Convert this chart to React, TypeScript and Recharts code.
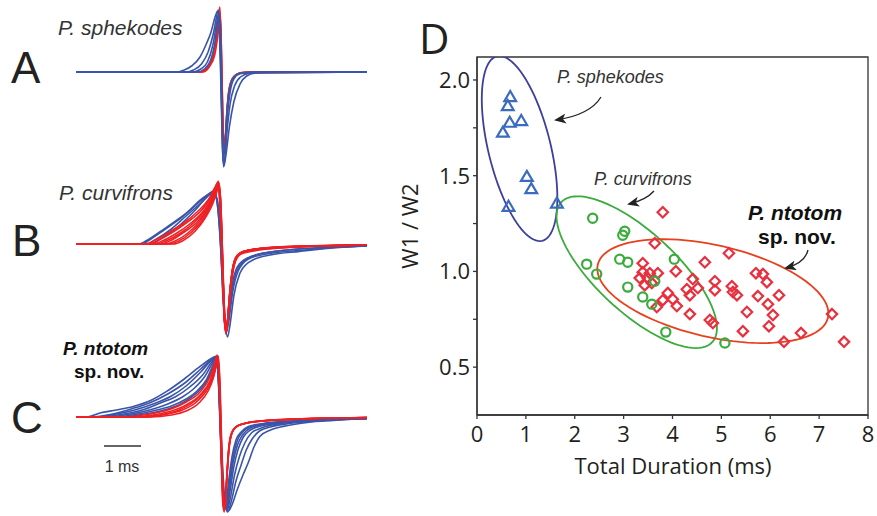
import React from 'react';
import { LineChart, Line, XAxis, YAxis, ScatterChart, Scatter, ReferenceArea } from 'recharts';

type P = [number, number];

// ---------------- Panel A (P. sphekodes) waveforms: [time ms, amplitude] ----------------
const A_RED: P[][] = [
  [[0,0],[3.35,0],[3.55,3],[3.7,12],[3.8,28],[3.87,50],[3.92,65],[3.96,25],[4.0,-45],[4.04,-80],[4.08,-62],[4.15,-26],[4.25,-8],[4.4,-2],[4.7,0],[7.93,0]],
  [[0,0],[3.4,0],[3.6,5],[3.75,18],[3.85,40],[3.91,62],[3.95,35],[3.99,-35],[4.04,-76],[4.09,-52],[4.17,-18],[4.3,-5],[4.5,-1],[7.93,0]],
  [[0,0],[3.45,0],[3.63,5],[3.78,17],[3.87,38],[3.93,58],[3.97,12],[4.02,-68],[4.06,-70],[4.12,-34],[4.2,-12],[4.35,-3],[4.6,0],[7.93,0]],
];
const A_BLUE: P[][] = [
  [[0,0],[2.75,0],[2.95,2],[3.15,6],[3.38,15],[3.55,28],[3.68,40],[3.79,55],[3.86,61],[3.91,38],[3.95,-15],[3.99,-75],[4.03,-94],[4.09,-82],[4.18,-55],[4.3,-30],[4.47,-12],[4.65,-4],[4.9,-1],[5.3,0],[7.93,0]],
  [[0,0],[3.0,0],[3.2,2],[3.42,8],[3.6,20],[3.74,38],[3.83,55],[3.88,62],[3.93,28],[3.97,-35],[4.01,-88],[4.05,-90],[4.11,-62],[4.2,-32],[4.32,-14],[4.48,-5],[4.75,-1],[5.1,0],[7.93,0]],
  [[0,0],[3.2,0],[3.4,3],[3.58,10],[3.73,27],[3.84,50],[3.9,58],[3.94,20],[3.98,-50],[4.02,-95],[4.06,-84],[4.12,-46],[4.2,-20],[4.3,-7],[4.45,-2],[4.8,0],[7.93,0]],
  [[0,0],[3.3,0],[3.5,3],[3.67,12],[3.8,33],[3.88,57],[3.93,48],[3.97,-20],[4.01,-84],[4.05,-80],[4.11,-42],[4.19,-16],[4.3,-5],[4.5,-1],[7.93,0]],
];

// ---------------- Panel B (P. curvifrons) ----------------
const B_BLUE: P[][] = [
  [[0,0],[1.72,0],[1.9,3],[2.3,12.6],[2.83,26],[3.1,34],[3.38,44],[3.58,49],[3.72,52],[3.83,46],[3.92,20],[4.0,-30],[4.07,-80],[4.13,-93],[4.2,-80],[4.3,-52],[4.47,-29],[4.65,-20],[4.82,-16],[5.3,-11],[6.1,-7.4],[7.0,-4],[7.93,-2]],
  [[0,0],[1.8,0],[2.0,4],[2.4,14],[2.9,27],[3.3,40],[3.58,49],[3.75,53],[3.85,40],[3.94,0],[4.02,-58],[4.09,-89],[4.16,-78],[4.27,-48],[4.42,-27],[4.7,-15],[5.2,-10],[6.1,-6.5],[7.0,-3.5],[7.93,-2]],
  [[0,0],[1.95,0],[2.15,4],[2.6,15],[3.0,28],[3.4,41],[3.65,50],[3.78,51],[3.88,30],[3.97,-22],[4.05,-75],[4.1,-86],[4.18,-64],[4.32,-34],[4.52,-19],[4.9,-11],[5.5,-7],[6.5,-4],[7.93,-2]],
  [[0,0],[2.05,0],[2.3,5],[2.8,18],[3.2,32],[3.55,46],[3.75,52],[3.85,44],[3.93,10],[4.0,-50],[4.08,-88],[4.15,-72],[4.28,-36],[4.45,-20],[4.8,-12],[5.5,-7],[6.5,-4],[7.93,-2]],
];
const B_RED: P[][] = [
  [[0,0],[1.9,0],[2.1,3],[2.5,11],[2.9,20],[3.3,32],[3.6,44],[3.78,56],[3.86,61],[3.92,40],[3.98,-10],[4.04,-70],[4.09,-89],[4.15,-70],[4.25,-35],[4.35,-17],[4.5,-10],[5.0,-6],[6.0,-3],[7.93,-1]],
  [[0,0],[2.0,0],[2.2,3],[2.6,11],[3.0,21],[3.4,33],[3.65,45],[3.8,57],[3.87,62],[3.93,35],[3.99,-20],[4.05,-78],[4.1,-88],[4.17,-62],[4.26,-30],[4.37,-14],[4.55,-8],[5.1,-5],[6.2,-2.5],[7.93,-1]],
  [[0,0],[2.1,0],[2.35,3],[2.75,11],[3.1,20],[3.45,32],[3.7,46],[3.83,58],[3.88,63],[3.94,30],[4.0,-30],[4.05,-80],[4.1,-86],[4.17,-58],[4.26,-26],[4.38,-12],[4.6,-7],[5.2,-4.5],[6.3,-2.5],[7.93,-1]],
  [[0,0],[2.2,0],[2.45,3],[2.85,11],[3.2,21],[3.5,33],[3.72,46],[3.84,58],[3.89,62],[3.95,25],[4.01,-40],[4.06,-84],[4.11,-84],[4.18,-52],[4.27,-24],[4.4,-11],[4.6,-7],[5.2,-4],[7.93,-1]],
  [[0,0],[2.3,0],[2.55,3],[2.95,12],[3.3,22],[3.58,35],[3.76,48],[3.85,58],[3.9,61],[3.96,20],[4.02,-50],[4.07,-88],[4.12,-80],[4.2,-45],[4.3,-20],[4.45,-10],[4.7,-6],[5.5,-3.5],[7.93,-1]],
  [[0,0],[2.45,0],[2.7,3],[3.05,11],[3.4,24],[3.63,37],[3.78,50],[3.87,60],[3.91,58],[3.97,15],[4.03,-60],[4.08,-90],[4.13,-78],[4.21,-42],[4.32,-18],[4.48,-9],[4.8,-5.5],[5.6,-3],[7.93,-1]],
  [[0,0],[2.55,0],[2.8,3],[3.15,12],[3.45,24],[3.67,38],[3.8,50],[3.88,58],[3.93,50],[3.98,5],[4.04,-65],[4.09,-87],[4.14,-72],[4.22,-38],[4.33,-16],[4.5,-8.5],[4.9,-5],[5.8,-2.5],[7.93,-1]],
  [[0,0],[2.65,0],[2.9,3],[3.25,13],[3.52,26],[3.7,38],[3.82,50],[3.89,57],[3.94,45],[3.99,-5],[4.05,-70],[4.1,-85],[4.16,-66],[4.24,-34],[4.36,-15],[4.55,-8],[5.0,-4.5],[6.0,-2],[7.93,-1]],
];

// ---------------- Panel C (P. ntotom sp. nov.) ----------------
const C_BLUE: P[][] = [
  [[0,0],[0.3,0],[0.65,4],[1.1,7],[1.56,10.6],[2.0,16],[2.47,25.6],[2.95,38],[3.38,50.6],[3.62,57],[3.76,60],[3.84,61],[3.9,30],[3.97,-30],[4.05,-80],[4.15,-94],[4.25,-88],[4.4,-72],[4.55,-58],[4.69,-46],[4.85,-30],[5.01,-19.4],[5.3,-13],[5.65,-9.4],[6.3,-5.5],[7.01,-3.4],[7.93,-1.5]],
  [[0,0],[0.4,0],[1.0,3],[1.5,8],[2.0,14],[2.5,23],[3.0,35],[3.4,48],[3.68,57],[3.82,60],[3.89,32],[3.96,-32],[4.04,-82],[4.13,-95],[4.22,-86],[4.36,-64],[4.5,-48],[4.64,-33],[4.8,-22],[5.0,-14],[5.3,-10],[5.8,-6.5],[6.6,-4],[7.93,-1.5]],
  [[0,0],[0.5,0],[1.1,3],[1.6,7],[2.1,13],[2.6,21],[3.0,31],[3.4,45],[3.7,57],[3.82,60],[3.89,30],[3.96,-36],[4.03,-84],[4.12,-93],[4.2,-82],[4.32,-58],[4.45,-40],[4.6,-26],[4.78,-16],[5.05,-11],[5.5,-7],[6.4,-4],[7.93,-1.5]],
  [[0,0],[0.6,0],[1.3,3],[1.8,7],[2.3,14],[2.7,20],[3.1,30],[3.45,42],[3.72,56],[3.83,60],[3.89,28],[3.96,-40],[4.03,-86],[4.11,-92],[4.19,-76],[4.3,-50],[4.42,-32],[4.56,-20],[4.75,-13],[5.1,-8.5],[5.7,-5.5],[7.93,-1.5]],
  [[0,0],[0.8,0],[1.5,3],[2.0,7],[2.5,13],[2.9,20],[3.2,28],[3.5,40],[3.74,55],[3.84,60],[3.9,26],[3.96,-42],[4.02,-86],[4.1,-90],[4.18,-72],[4.28,-46],[4.4,-28],[4.54,-18],[4.75,-11],[5.1,-7.5],[5.8,-4.5],[7.93,-1.5]],
  [[0,0],[1.0,0],[1.7,3],[2.2,7],[2.6,11],[3.0,18],[3.3,26],[3.55,37],[3.76,54],[3.85,60],[3.91,24],[3.97,-44],[4.03,-86],[4.1,-88],[4.17,-68],[4.27,-42],[4.38,-25],[4.52,-16],[4.72,-10],[5.1,-7],[5.8,-4.5],[7.93,-1.5]],
  [[0,0],[1.2,0],[1.9,3],[2.4,7],[2.8,12],[3.15,20],[3.4,28],[3.6,38],[3.77,53],[3.85,60],[3.91,22],[3.97,-45],[4.03,-85],[4.09,-86],[4.16,-64],[4.25,-40],[4.36,-23],[4.5,-15],[4.7,-9.5],[5.1,-6.5],[5.9,-4],[7.93,-1.5]],
];
const C_RED: P[][] = [
  [[0,0],[1.3,0],[2.0,3],[2.5,7],[3.0,15],[3.38,25],[3.65,40],[3.78,54],[3.85,62],[3.9,35],[3.95,-30],[4.0,-86],[4.04,-95],[4.09,-70],[4.15,-36],[4.22,-18],[4.35,-10],[4.5,-7.5],[4.9,-4.5],[5.5,-3],[6.5,-1.5],[7.93,-0.5]],
  [[0,0],[1.5,0],[2.1,2],[2.6,6],[3.0,12],[3.38,22],[3.66,37],[3.79,52],[3.86,61],[3.91,32],[3.96,-35],[4.01,-88],[4.05,-93],[4.1,-66],[4.16,-33],[4.24,-16],[4.37,-9.5],[4.55,-7],[5.0,-4.2],[5.6,-2.8],[6.6,-1.4],[7.93,-0.5]],
  [[0,0],[1.7,0],[2.3,2],[2.8,7],[3.2,15],[3.5,26],[3.7,38],[3.8,50],[3.86,60],[3.92,28],[3.97,-40],[4.02,-90],[4.06,-90],[4.11,-60],[4.17,-30],[4.26,-15],[4.4,-9],[4.6,-6.5],[5.1,-4],[5.8,-2.5],[7.93,-0.5]],
  [[0,0],[1.9,0],[2.5,3],[2.9,7],[3.25,14],[3.55,26],[3.72,38],[3.82,52],[3.87,60],[3.92,30],[3.97,-38],[4.02,-88],[4.06,-92],[4.11,-62],[4.18,-28],[4.27,-14],[4.42,-8.5],[4.65,-6],[5.2,-3.6],[6.0,-2],[7.93,-0.5]],
  [[0,0],[2.0,0],[2.6,2],[3.0,6],[3.35,14],[3.6,26],[3.75,40],[3.84,54],[3.88,61],[3.93,28],[3.98,-42],[4.03,-90],[4.07,-88],[4.12,-56],[4.19,-26],[4.29,-13],[4.45,-8],[4.7,-5.5],[5.2,-3.4],[6.2,-1.8],[7.93,-0.5]],
];

// ---------------- Panel D scatter: [Total Duration (ms), W1/W2] ----------------
const SPHEKODES: P[] = [
  [0.68,1.913],[0.63,1.866],[0.905,1.788],[0.67,1.779],[0.53,1.727],
  [1.02,1.496],[1.11,1.432],[0.645,1.34],[1.635,1.357],
];
const CURVIFRONS: P[] = [
  [2.367,1.278],[3.023,1.21],[2.982,1.189],[2.244,1.038],[2.449,0.986],[2.92,1.064],[3.084,1.048],
  [4.037,1.064],[3.084,0.918],[3.637,0.949],[3.391,0.866],[3.576,0.829],[3.863,0.683],[5.072,0.626],
];
const NTOTOM: P[] = [
  [3.801,1.309],[3.637,1.147],[5.154,1.095],[4.662,1.048],[3.391,1.043],[4.068,1.001],[3.391,0.996],
  [3.535,0.991],[3.699,0.991],[3.33,0.965],[3.494,0.965],[3.432,0.928],[3.576,0.939],[4.416,0.96],
  [4.867,0.949],[5.215,0.923],[5.707,0.991],[5.85,0.986],[5.932,0.944],[4.293,0.907],[4.518,0.913],
  [4.867,0.902],[5.236,0.892],[5.318,0.876],[5.748,0.871],[6.178,0.876],[3.904,0.887],[4.355,0.876],
  [3.801,0.85],[4.006,0.855],[4.088,0.819],[4.355,0.777],[3.678,0.814],[5.523,0.788],[5.953,0.829],
  [6.055,0.772],[4.764,0.746],[4.826,0.73],[5.441,0.688],[5.973,0.714],[7.264,0.777],[6.281,0.632],
  [6.629,0.678],[7.51,0.632],
];

// ellipses: centre + two conjugate semi-axis vectors (data units)
const ELLIPSE_SPHEKODES = { cx: 0.871, cy: 1.642, ax: 0.463, ay: -0.482, bx: 0.619, by: 0.0385 };
const ELLIPSE_CURVIFRONS = { cx: 3.268, cy: 0.996, ax: 1.543, ay: -0.366, bx: 0.56, by: 0.152 };
const ELLIPSE_NTOTOM = { cx: 4.826, cy: 0.897, ax: 2.355, ay: -0.1383, bx: -0.212, by: -0.2334 };
const ELLIPSE_STEPS = 96;

const X_TICKS = [0, 1, 2, 3, 4, 5, 6, 7, 8];
const Y_TICKS = [0.5, 0.75, 1.0, 1.25, 1.5, 1.75, 2.0];
const Y_LABELED = [0.5, 1.0, 1.5, 2.0];

const RED = '#ee2024';
const BLUE = '#3a55a8';
const AXIS_FONT = '"Open Sans", "Noto Sans", sans-serif';
const LABEL_FONT = '"Liberation Sans", Arial, sans-serif';

const toObj = (tr: P[]) => tr.map(([t, v]) => ({ t, v }));
const toXY = (pts: P[]) => pts.map(([x, y]) => ({ x, y }));
const ellipsePts = (e: { cx: number; cy: number; ax: number; ay: number; bx: number; by: number }) => {
  const out: { x: number; y: number }[] = [];
  for (let i = 0; i <= ELLIPSE_STEPS; i++) {
    const th = (i / ELLIPSE_STEPS) * Math.PI * 2;
    out.push({ x: e.cx + e.ax * Math.cos(th) + e.bx * Math.sin(th), y: e.cy + e.ay * Math.cos(th) + e.by * Math.sin(th) });
  }
  return out;
};

function TracePanel({ top, first, second }: { top: number; first: { color: string; traces: P[][] }; second: { color: string; traces: P[][] } }) {
  const all: { color: string; tr: P[] }[] = [
    ...first.traces.map((tr) => ({ color: first.color, tr })),
    ...second.traces.map((tr) => ({ color: second.color, tr })),
  ];
  return (
    <div style={{ position: 'absolute', left: 76, top, width: 291, height: 172 }}>
      <LineChart width={291} height={172} margin={{ top: 0, right: 0, bottom: 0, left: 0 }}>
        <XAxis type="number" dataKey="t" domain={[0, 7.93]} hide allowDataOverflow />
        <YAxis type="number" domain={[-100, 72]} hide allowDataOverflow />
        {all.map((l, i) => (
          <Line
            key={i}
            data={toObj(l.tr)}
            dataKey="v"
            type="monotone"
            stroke={l.color}
            strokeWidth={1.6}
            dot={false}
            activeDot={false}
            isAnimationActive={false}
          />
        ))}
      </LineChart>
    </div>
  );
}

const Empty = () => <g />;
const Triangle = (p: any) => {
  const { cx, cy } = p;
  const s = 5.6;
  return <polygon points={`${cx},${cy - s} ${cx + s * 1.05},${cy + s * 0.8} ${cx - s * 1.05},${cy + s * 0.8}`} fill="none" stroke="#3a6bbf" strokeWidth={2.2} />;
};
const Circ = (p: any) => <circle cx={p.cx} cy={p.cy} r={4.6} fill="none" stroke="#3aab3c" strokeWidth={2.2} />;
const Diamond = (p: any) => {
  const { cx, cy } = p;
  const s = 5.2;
  return <polygon points={`${cx},${cy - s} ${cx + s},${cy} ${cx},${cy + s} ${cx - s},${cy}`} fill="none" stroke="#e8303e" strokeWidth={2.2} />;
};
const YTick = (props: any) => {
  const { x, y, payload } = props;
  const v = payload.value;
  if (!Y_LABELED.some((l) => Math.abs(l - v) < 1e-6)) return <g />;
  return (
    <text x={x} y={y} dy="0.36em" textAnchor="end" fontSize={22} fill="#231f20" fontFamily={AXIS_FONT}>
      {v.toFixed(1)}
    </text>
  );
};

export default function App() {
  return (
    <div style={{ position: 'absolute', left: 0, top: 0, width: 877, height: 516, background: '#fff', overflow: 'hidden' }}>
      <TracePanel top={0} first={{ color: RED, traces: A_RED }} second={{ color: BLUE, traces: A_BLUE }} />
      <TracePanel top={172.3} first={{ color: BLUE, traces: B_BLUE }} second={{ color: RED, traces: B_RED }} />
      <TracePanel top={345.3} first={{ color: BLUE, traces: C_BLUE }} second={{ color: RED, traces: C_RED }} />

      <div style={{ position: 'absolute', left: 0, top: 0 }}>
        <ScatterChart width={877} height={516} margin={{ top: 57, right: 9, bottom: 71, left: 417 }}>
          <XAxis
            type="number"
            dataKey="x"
            domain={[0, 8]}
            ticks={X_TICKS}
            allowDataOverflow
            height={30}
            stroke="#333"
            strokeWidth={1.3}
            tickSize={4}
            tickMargin={7}
            tick={{ fontSize: 22, fill: '#231f20', fontFamily: AXIS_FONT }}
          />
          <YAxis
            type="number"
            dataKey="y"
            domain={[0.25, 2.12]}
            ticks={Y_TICKS}
            allowDataOverflow
            width={60}
            stroke="#333"
            strokeWidth={1.3}
            tickSize={4}
            tickMargin={3}
            tick={<YTick />}
          />
          <ReferenceArea x1={0} x2={8} y1={0.25} y2={2.12} fill="none" stroke="#333" strokeWidth={1.3} ifOverflow="visible" />
          <Scatter data={ellipsePts(ELLIPSE_SPHEKODES)} fill="#3c3f9c" line={{ stroke: '#3c3f9c', strokeWidth: 1.8 }} lineType="joint" shape={<Empty />} isAnimationActive={false} />
          <Scatter data={ellipsePts(ELLIPSE_CURVIFRONS)} fill="#3aab3c" line={{ stroke: '#3aab3c', strokeWidth: 1.8 }} lineType="joint" shape={<Empty />} isAnimationActive={false} />
          <Scatter data={ellipsePts(ELLIPSE_NTOTOM)} fill="#e8401e" line={{ stroke: '#e8401e', strokeWidth: 1.8 }} lineType="joint" shape={<Empty />} isAnimationActive={false} />
          <Scatter data={toXY(NTOTOM)} shape={Diamond} isAnimationActive={false} />
          <Scatter data={toXY(CURVIFRONS)} shape={Circ} isAnimationActive={false} />
          <Scatter data={toXY(SPHEKODES)} shape={Triangle} isAnimationActive={false} />
        </ScatterChart>
      </div>

      <svg width={877} height={516} style={{ position: 'absolute', left: 0, top: 0, pointerEvents: 'none' }}>
        <defs>
          <marker id="ah" markerWidth={12} markerHeight={10} refX={10} refY={5} orient="auto" markerUnits="userSpaceOnUse">
            <path d="M0,0 L12,5 L0,10 L3,5 Z" fill="#222" />
          </marker>
        </defs>
        {/* panel letters */}
        <text x={11} y={83} fontSize={44} fill="#222" fontFamily={LABEL_FONT}>A</text>
        <text x={12} y={256} fontSize={44} fill="#222" fontFamily={LABEL_FONT}>B</text>
        <text x={11} y={433} fontSize={44} fill="#222" fontFamily={LABEL_FONT}>C</text>
        <text x={419} y={54} fontSize={42} fill="#222" fontFamily={AXIS_FONT}>D</text>

        {/* left species labels */}
        <text x={58} y={35} fontSize={21} fontStyle="italic" fill="#333" fontFamily={LABEL_FONT}>P. sphekodes</text>
        <text x={59} y={200} fontSize={21} fontStyle="italic" fill="#333" fontFamily={LABEL_FONT}>P. curvifrons</text>
        <text x={63} y={355} fontSize={19} fontStyle="italic" fontWeight="bold" fill="#111" fontFamily={LABEL_FONT}>P. ntotom</text>
        <text x={74} y={378} fontSize={19} fontWeight="bold" fill="#111" fontFamily={LABEL_FONT}>sp. nov.</text>

        {/* scale bar */}
        <line x1={104} y1={446} x2={141} y2={446} stroke="#333" strokeWidth={1.5} />
        <text x={122} y={472} fontSize={16} textAnchor="middle" fill="#333" fontFamily={LABEL_FONT}>1 ms</text>

        {/* panel D annotations */}
        <text x={557} y={83} fontSize={18} fontStyle="italic" fill="#333" fontFamily={LABEL_FONT}>P. sphekodes</text>
        <path d="M601,97 Q590,115 556,120" fill="none" stroke="#222" strokeWidth={1.3} markerEnd="url(#ah)" />
        <text x={594} y={185} fontSize={18} fontStyle="italic" fill="#333" fontFamily={LABEL_FONT}>P. curvifrons</text>
        <path d="M654,191 Q646,200 629,204" fill="none" stroke="#222" strokeWidth={1.3} markerEnd="url(#ah)" />
        <text x={748} y={220} fontSize={21} fontStyle="italic" fontWeight="bold" fill="#111" fontFamily={LABEL_FONT}>P. ntotom</text>
        <text x={758} y={244} fontSize={21} fontWeight="bold" fill="#111" fontFamily={LABEL_FONT}>sp. nov.</text>
        <path d="M808,250 Q805,263 786,268" fill="none" stroke="#222" strokeWidth={1.3} markerEnd="url(#ah)" />

        {/* axis titles */}
        <text x={673} y={474} fontSize={22} textAnchor="middle" fill="#231f20" fontFamily={AXIS_FONT}>Total Duration (ms)</text>
        <text x={0} y={0} fontSize={22} textAnchor="middle" fill="#231f20" fontFamily={AXIS_FONT} transform="translate(418,226) rotate(-90)">W1 / W2</text>
      </svg>
    </div>
  );
}
